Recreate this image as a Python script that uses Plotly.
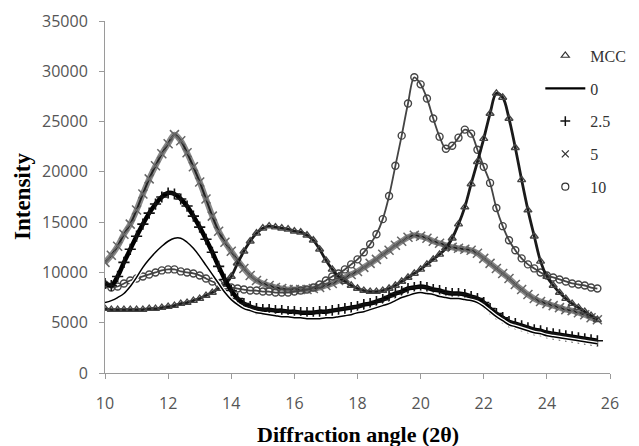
import plotly.graph_objects as go

# Diffraction angle (2θ)
angle = [10.0, 10.2, 10.4, 10.6, 10.8, 11.0, 11.2, 11.4, 11.6, 11.8,
         12.0, 12.2, 12.4, 12.6, 12.8, 13.0, 13.2, 13.4, 13.6, 13.8,
         14.0, 14.2, 14.4, 14.6, 14.8, 15.0, 15.2, 15.4, 15.6, 15.8,
         16.0, 16.2, 16.4, 16.6, 16.8, 17.0, 17.2, 17.4, 17.6, 17.8,
         18.0, 18.2, 18.4, 18.6, 18.8, 19.0, 19.2, 19.4, 19.6, 19.8,
         20.0, 20.2, 20.4, 20.6, 20.8, 21.0, 21.2, 21.4, 21.6, 21.8,
         22.0, 22.2, 22.4, 22.6, 22.8, 23.0, 23.2, 23.4, 23.6, 23.8,
         24.0, 24.2, 24.4, 24.6, 24.8, 25.0, 25.2, 25.4, 25.6]

mcc = [6400, 6300, 6300, 6300, 6300, 6300, 6300, 6400, 6400, 6500,
       6600, 6700, 6900, 7000, 7200, 7400, 7700, 8000, 8400, 8800,
       9600, 10900, 12100, 13100, 13900, 14400, 14600, 14500, 14400, 14300,
       14100, 14000, 13700, 13200, 12300, 11200, 10300, 9600, 9100, 8700,
       8400, 8200, 8100, 8100, 8200, 8400, 8700, 9100, 9500, 9900,
       10300, 10800, 11300, 11800, 12400, 13400, 14800, 16500, 18800, 21000,
       23300, 25800, 27800, 27400, 25300, 22400, 19200, 16200, 13600, 11100,
       9600, 8700, 8000, 7400, 6900, 6500, 6100, 5700, 5300]

s0 = [7000, 7200, 7500, 7900, 8600, 9500, 10500, 11300, 12000, 12600,
      13100, 13400, 13400, 13000, 12400, 11600, 10700, 9800, 8900, 8000,
      7300, 6800, 6400, 6200, 6000, 5900, 5800, 5700, 5600, 5600,
      5500, 5500, 5400, 5400, 5400, 5500, 5500, 5600, 5700, 5800,
      6000, 6100, 6300, 6500, 6700, 6900, 7200, 7500, 7700, 7900,
      8000, 7900, 7800, 7600, 7500, 7400, 7400, 7300, 7200, 7000,
      6600, 6100, 5600, 5200, 4800, 4600, 4400, 4200, 4000, 3900,
      3700, 3600, 3500, 3400, 3300, 3200, 3100, 3000, 2900]

s2_5 = [8900, 8700, 9600, 11000, 12300, 13600, 14800, 15900, 16800, 17500,
        17900, 17800, 17300, 16600, 15600, 14500, 13300, 12000, 10600, 9300,
        8200, 7400, 6900, 6600, 6400, 6300, 6300, 6200, 6200, 6100,
        6100, 6000, 6000, 6000, 6100, 6100, 6200, 6300, 6400, 6500,
        6600, 6800, 6900, 7100, 7300, 7600, 7900, 8100, 8400, 8500,
        8600, 8500, 8300, 8200, 8000, 7900, 7900, 7800, 7600, 7400,
        7000, 6400, 5900, 5500, 5100, 4900, 4700, 4500, 4300, 4200,
        4000, 3900, 3800, 3700, 3600, 3500, 3400, 3300, 3200]

s5 = [11000, 11700, 12600, 13800, 14800, 16200, 17800, 19300, 20600, 21800,
      22800, 23700, 23100, 21900, 20500, 19000, 17300, 15600, 14100, 13000,
      12100, 11200, 10400, 9700, 9200, 8900, 8700, 8500, 8400, 8300,
      8300, 8300, 8300, 8400, 8500, 8700, 8900, 9200, 9500, 9800,
      10100, 10500, 10900, 11300, 11800, 12200, 12700, 13100, 13500, 13700,
      13600, 13400, 13100, 12900, 12700, 12500, 12400, 12300, 12200, 11900,
      11400, 10900, 10400, 9900, 9400, 8800, 8300, 7800, 7400, 7100,
      6900, 6700, 6500, 6300, 6200, 6000, 5800, 5500, 5300]

s10 = [8800, 8500, 8600, 8900, 9200, 9400, 9600, 9800, 10000, 10200,
       10300, 10300, 10100, 10000, 9900, 9700, 9400, 9100, 8900, 8700,
       8500, 8400, 8300, 8200, 8200, 8100, 8100, 8000, 8000, 8000,
       8100, 8200, 8300, 8500, 8800, 9200, 9600, 9900, 10300, 10800,
       11300, 12000, 12800, 13800, 15300, 17600, 20600, 23600, 26800, 29400,
       28700, 27300, 25300, 23500, 22300, 22600, 23400, 24200, 23800, 22200,
       20500, 18900, 16400, 14600, 13200, 12200, 11400, 10800, 10400, 10000,
       9700, 9500, 9300, 9100, 8900, 8800, 8700, 8500, 8400]

y_ticks = [0, 5000, 10000, 15000, 20000, 25000, 30000, 35000]
x_ticks = [10, 12, 14, 16, 18, 20, 22, 24, 26]

fig = go.Figure()

# data traces (legend handled separately)
fig.add_trace(go.Scatter(x=angle, y=s5, mode="lines", showlegend=False,
                         line=dict(color="#8a8a8a", width=6, shape="spline")))
fig.add_trace(go.Scatter(x=angle, y=s5, mode="lines+markers", showlegend=False,
                         line=dict(color="#222222", width=2, shape="spline"),
                         marker=dict(symbol="x-thin", size=9, line=dict(color="#666666", width=1.5))))
fig.add_trace(go.Scatter(x=angle, y=s10, mode="lines+markers", showlegend=False,
                         line=dict(color="#444444", width=1.8, shape="spline"),
                         marker=dict(symbol="circle-open", size=7, color="#444444", line=dict(width=1.4))))
fig.add_trace(go.Scatter(x=angle, y=mcc, mode="lines+markers", showlegend=False,
                         line=dict(color="#1a1a1a", width=2.8, shape="spline"),
                         marker=dict(symbol="triangle-up-open", size=7, color="#444444", line=dict(width=1.4))))
fig.add_trace(go.Scatter(x=angle, y=s2_5, mode="lines+markers", showlegend=False,
                         line=dict(color="#000000", width=4.5, shape="spline"),
                         marker=dict(symbol="cross-thin", size=8, line=dict(color="#111111", width=1.6))))
fig.add_trace(go.Scatter(x=angle, y=s0, mode="lines", showlegend=False,
                         line=dict(color="#ffffff", width=4, shape="spline")))
fig.add_trace(go.Scatter(x=angle, y=s0, mode="lines", showlegend=False,
                         line=dict(color="#000000", width=1.5, shape="spline")))

# legend entries
fig.add_trace(go.Scatter(x=[None], y=[None], mode="markers", name="MCC", legendgroup="a",
                         marker=dict(symbol="triangle-up-open", size=7, color="#333333", line=dict(width=1.2))))
fig.add_trace(go.Scatter(x=[None], y=[None], mode="lines", name="0", legendgroup="b",
                         line=dict(color="#000000", width=2.2)))
fig.add_trace(go.Scatter(x=[None], y=[None], mode="markers", name="2.5", legendgroup="c",
                         marker=dict(symbol="cross-thin", size=7, line=dict(color="#111111", width=1.5))))
fig.add_trace(go.Scatter(x=[None], y=[None], mode="markers", name="5", legendgroup="d",
                         marker=dict(symbol="x-thin", size=7, line=dict(color="#333333", width=1.3))))
fig.add_trace(go.Scatter(x=[None], y=[None], mode="markers", name="10", legendgroup="e",
                         marker=dict(symbol="circle-open", size=7, color="#333333", line=dict(width=1.2))))

axis_common = dict(showgrid=False, zeroline=False, showline=True, linecolor="#9a9a9a", linewidth=1,
                   ticks="outside", ticklen=5, tickcolor="#9a9a9a", tickwidth=1,
                   tickfont=dict(family="Open Sans", size=16, color="#555555"))

fig.update_layout(
    width=631, height=438,
    margin=dict(l=97, r=29, t=13, b=73, autoexpand=False),
    paper_bgcolor="white", plot_bgcolor="white",
    xaxis=dict(range=[10, 26], tickvals=x_ticks, ticktext=[str(v) for v in x_ticks],
               ticklabelstandoff=11, **axis_common),
    yaxis=dict(range=[0, 35000], tickvals=y_ticks, ticktext=[str(v) for v in y_ticks],
               ticklabelstandoff=8, **axis_common),
    legend=dict(x=0.862, y=0.950, xanchor="left", yanchor="top", itemwidth=40,
                tracegroupgap=9, bgcolor="rgba(0,0,0,0)",
                font=dict(family="Liberation Serif", size=16, color="#333333")),
    showlegend=True,
    annotations=[
        dict(text="<b>Diffraction angle (2θ)</b>", xref="paper", yref="paper", x=0.5, y=0,
             yshift=-61, xanchor="center", yanchor="middle", showarrow=False,
             font=dict(family="Liberation Serif", size=22, color="#000000")),
        dict(text="<b>Intensity</b>", xref="paper", yref="paper", x=0, y=0.5, xshift=-83,
             xanchor="center", yanchor="middle", textangle=-90, showarrow=False,
             font=dict(family="Liberation Serif", size=23, color="#000000")),
    ],
)

fig.write_html("out.html")
